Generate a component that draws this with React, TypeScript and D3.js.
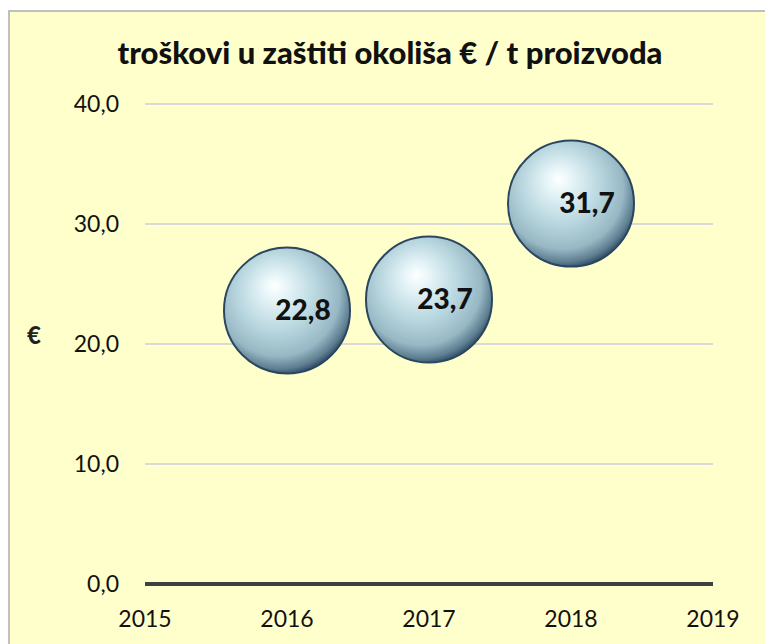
import React from "react";
import * as d3 from "d3";

const years = [2016, 2017, 2018];
const values = [22.8, 23.7, 31.7];
const yTicks = [0, 10, 20, 30, 40];
const xTicks = [2015, 2016, 2017, 2018, 2019];
const title = "troškovi u zaštiti okoliša € / t proizvoda";

const W = 765;
const H = 644;
const FONT = "Lato, 'Open Sans', sans-serif";

export default function App() {
  const x = d3.scaleLinear().domain([2015, 2019]).range([145, 713]);
  const y = d3.scaleLinear().domain([0, 40]).range([584, 104]);
  const fmt = (v: number) => d3.format(".1f")(v).replace(".", ",");
  const r = 63;

  return (
    <div style={{ position: "absolute", left: 0, top: 0 }}>
      <svg width={W} height={H} style={{ display: "block" }}>
        <defs>
          <radialGradient id="sphere" cx="0.44" cy="0.4" r="0.62" fx="0.4" fy="0.3">
            <stop offset="0%" stopColor="#ffffff" />
            <stop offset="15%" stopColor="#e8f6f9" />
            <stop offset="50%" stopColor="#b9d7df" />
            <stop offset="78%" stopColor="#97b8c4" />
            <stop offset="92%" stopColor="#5f7f92" />
            <stop offset="100%" stopColor="#2b4862" />
          </radialGradient>
        </defs>
        <rect x={0} y={0} width={W} height={H} fill="#ffffff" />
        <rect x={9} y={11} width={W + 10} height={H + 10} fill="#ffffcc" stroke="#c0c0c0" strokeWidth={2} />

        <text x={390} y={64} textAnchor="middle" fontFamily={FONT} fontWeight={900} fontSize={31} fill="#111">
          {title}
        </text>

        {yTicks.filter((t) => t > 0).map((t) => (
          <line key={t} x1={x(2015)} x2={x(2019)} y1={y(t)} y2={y(t)} stroke="#d9d9d9" strokeWidth={2} />
        ))}
        <line x1={x(2015)} x2={x(2019)} y1={y(0)} y2={y(0)} stroke="#404040" strokeWidth={4} />

        {yTicks.map((t) => (
          <text key={t} x={119} y={y(t)} dy="0.35em" textAnchor="end" fontFamily={FONT} fontSize={23} fill="#111">
            {fmt(t)}
          </text>
        ))}
        {xTicks.map((t) => (
          <text key={t} x={x(t)} y={627} textAnchor="middle" fontFamily={FONT} fontSize={23} fill="#111">
            {t}
          </text>
        ))}
        <text x={34} y={336} dy="0.35em" textAnchor="middle" fontFamily={FONT} fontWeight={900} fontSize={24} fill="#222">
          €
        </text>

        {years.map((yr, i) => (
          <g key={yr}>
            <circle cx={x(yr)} cy={y(values[i])} r={r} fill="url(#sphere)" stroke="#2a4660" strokeWidth={2} />
            <text x={x(yr) + 16} y={y(values[i])} dy="0.35em" textAnchor="middle" fontFamily={FONT} fontWeight={900} fontSize={28} fill="#111">
              {fmt(values[i])}
            </text>
          </g>
        ))}
      </svg>
    </div>
  );
}
